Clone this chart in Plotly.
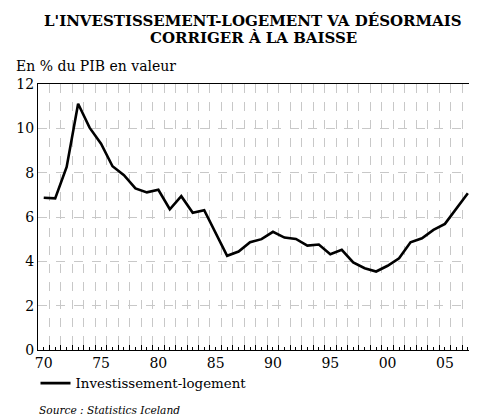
import plotly.graph_objects as go

years = list(range(1970, 2008))
values = [6.87, 6.84, 8.26, 11.11, 10.03, 9.31, 8.29, 7.89, 7.29, 7.11,
          7.23, 6.35, 6.94, 6.19, 6.31, 5.27, 4.25, 4.44, 4.86, 5.00,
          5.33, 5.07, 5.01, 4.71, 4.76, 4.32, 4.52, 3.95, 3.69, 3.54,
          3.80, 4.14, 4.86, 5.04, 5.42, 5.69, 6.39, 7.07]
tick_years = [1970, 1975, 1980, 1985, 1990, 1995, 2000, 2005]
tick_labels = ["70", "75", "80", "85", "90", "95", "00", "05"]
series_name = "Investissement-logement"
title_l1 = "L'INVESTISSEMENT-LOGEMENT VA DÉSORMAIS"
title_l2 = "CORRIGER À LA BAISSE"
unit = "En % du PIB en valeur"
source = "Source : Statistics Iceland"

FONT = "DejaVu Serif"
OFF = 8  # page body margin offset

W, H = 477 - OFF, 419 - OFF
L, R, T, B = 37.5 - OFF, 4.3, 83.5 - OFF, 68.5
PW, PH = W - L - R, H - T - B

def px_x(x):
    return (x - OFF - L) / PW

def px_y(y):
    return (H - B - (y - OFF)) / PH

tickvals = years
ticktext = [tick_labels[tick_years.index(y)] if y in tick_years else "" for y in years]

fig = go.Figure()
fig.add_trace(go.Scatter(x=years, y=values, mode="lines", name=series_name,
                         line=dict(color="black", width=2.6)))

fig.update_layout(
    width=W, height=H,
    margin=dict(l=L, r=R, t=T, b=B, autoexpand=False),
    paper_bgcolor="white", plot_bgcolor="white",
    font=dict(family=FONT, color="black", size=14),
    showlegend=True,
    legend=dict(orientation="h", x=px_x(35), xanchor="left", y=px_y(384), yanchor="middle",
                font=dict(size=13.4, family=FONT), bgcolor="rgba(0,0,0,0)"),
    xaxis=dict(range=[1969.5, 2007.45], tickvals=tickvals, ticktext=ticktext,
               ticks="inside", ticklen=3, tickcolor="black", tickwidth=1,
               showgrid=False, zeroline=False,
               showline=True, mirror=True, linecolor="black", linewidth=1.2,
               tickfont=dict(size=14, family=FONT),
               minor=dict(tick0=1970.5, dtick=1, ticks="inside", ticklen=5,
                          tickcolor="black", showgrid=True, gridcolor="#c8c8c8",
                          griddash="dash", gridwidth=1)),
    yaxis=dict(range=[0, 12], dtick=2, showgrid=True, gridcolor="#c8c8c8",
               griddash="dash", gridwidth=1, zeroline=False, ticks="",
               showline=True, mirror=True, linecolor="black", linewidth=1.2,
               tickfont=dict(size=14, family=FONT)),
)

for txt, yc in ((title_l1, 20), (title_l2, 37)):
    fig.add_annotation(text="<b>" + txt + "</b>", xref="paper", yref="paper",
                       x=px_x(253), y=px_y(yc), xanchor="center", yanchor="middle",
                       showarrow=False, font=dict(size=15, family=FONT))
fig.add_annotation(text=unit, xref="paper", yref="paper",
                   x=px_x(13), y=px_y(65), xanchor="left", yanchor="middle",
                   showarrow=False, font=dict(size=14, family=FONT))
fig.add_annotation(text="<i>" + source + "</i>", xref="paper", yref="paper",
                   x=px_x(36), y=px_y(411), xanchor="left", yanchor="middle",
                   showarrow=False, font=dict(size=10.6, family=FONT))

fig.write_html("out.html")
